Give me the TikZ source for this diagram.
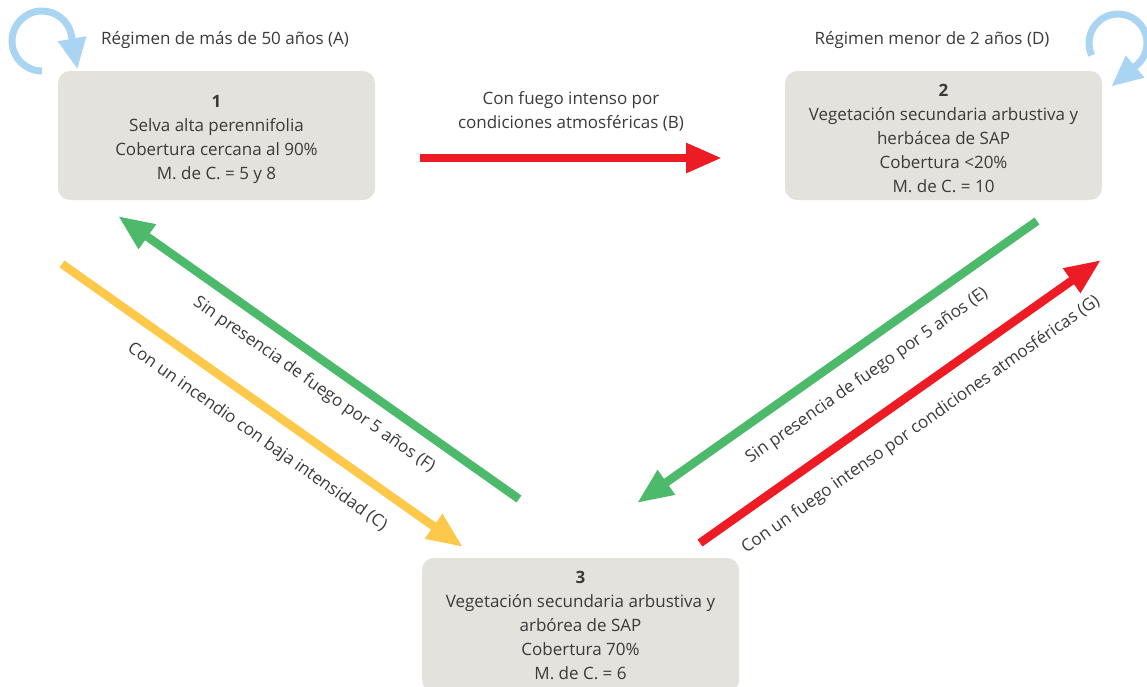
\documentclass[tikz,border=0pt]{standalone}
\usepackage{fontspec}
\setmainfont{Open Sans}
\usetikzlibrary{arrows.meta}
\definecolor{boxgray}{HTML}{E3E2DD}
\definecolor{txt}{HTML}{3A3A3A}
\definecolor{fire}{HTML}{ED1C24}
\definecolor{regrow}{HTML}{4DB96B}
\definecolor{lowfire}{HTML}{FEC84B}
\definecolor{loopblue}{HTML}{A9D5F2}
\begin{document}
\begin{tikzpicture}[x=1pt,y=-1pt,
  font=\fontsize{17}{24}\selectfont, text=txt,
  state/.style={fill=boxgray, rounded corners=12pt, minimum width=317pt,
    minimum height=129pt, inner sep=0pt},
  statetext/.style={align=center, inner sep=0pt},
  flow/.style={line width=8.5pt, -{Triangle[length=36pt,width=28pt]}},
  cycle/.style={line width=7pt, draw=loopblue, -{Triangle[length=31pt,width=27pt]}},
  lbl/.style={inner sep=0pt, align=center}]
\useasboundingbox (0,0) rectangle (1147,686);

% states: rounded boxes and their descriptions
\node[state] (s1) at (216.5,135.5) {};
\node[state] (s2) at (943.5,135.5) {};
\node[state, minimum height=134pt] (s3) at (580.5,625) {};
\node[statetext] (t1) at (216.5,139) {\textbf{1}\\Selva alta perennifolia\\Cobertura cercana al 90\%\\M. de C. = 5 y 8};
\node[statetext] (t2) at (943.5,138.5) {\textbf{2}\\Vegetación secundaria arbustiva y\\herbácea de SAP\\Cobertura <20\%\\M. de C. = 10};
\node[statetext] (t3) at (580.5,625.5) {\textbf{3}\\Vegetación secundaria arbustiva y\\arbórea de SAP\\Cobertura 70\%\\M. de C. = 6};

% regime labels and self loops
\node[lbl] (la) at (225,40) {Régimen de más de 50 años (A)};
\node[lbl] (ld) at (932,40) {Régimen menor de 2 años (D)};
\coordinate (c1) at (42,41);
\coordinate (c2) at (1118,43);
\draw[cycle] (c1) ++(90:30) arc[start angle=90, end angle=350, radius=30] -- ++(80:34);
\draw[cycle] (c2) ++(155:29) arc[start angle=155, end angle=410, radius=29] -- ++(140:33);

% transition end points
\coordinate (bT) at (420,158);  \coordinate (bH) at (722,158);
\coordinate (fT) at (519,499);  \coordinate (fH) at (118,216);
\coordinate (cT) at (62,264);   \coordinate (cH) at (463,547);
\coordinate (eT) at (1037,221); \coordinate (eH) at (637,503);
\coordinate (gT) at (700,543);  \coordinate (gH) at (1101,260);

% transitions
\draw[flow, draw=fire] (bT) -- (bH);
\draw[flow, draw=regrow] (fT) -- (fH);
\draw[flow, draw=lowfire] (cT) -- (cH);
\draw[flow, draw=regrow] (eT) -- (eH);
\draw[flow, draw=fire] (gT) -- (gH);

% transition labels
\node[lbl] (lb) at (571,111.5) {Con fuego intenso por\\condiciones atmosféricas (B)};
\node[lbl, rotate=-35.2] (lf) at (314,385) {Sin presencia de fuego por 5 años (F)};
\node[lbl, rotate=-35.2] (lc) at (257,437) {Con un incendio con baja intensidad (C)};
\node[lbl, rotate=35.2] (le) at (867,376) {Sin presencia de fuego por 5 años (E)};
\node[lbl, rotate=35.2] (lg) at (921,425) {Con un fuego intenso por condiciones atmosféricas (G)};
\end{tikzpicture}
\end{document}
